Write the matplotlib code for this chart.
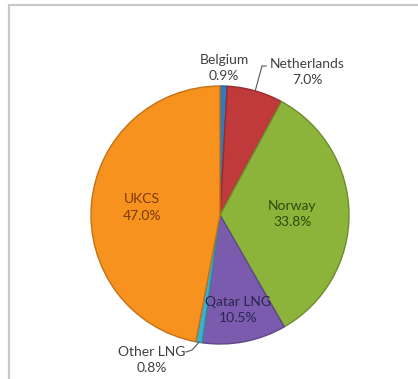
import numpy as np
import matplotlib.pyplot as plt
from matplotlib.patches import Rectangle
from matplotlib.colors import to_rgb

plt.rcParams['font.family'] = ['Lato', 'DejaVu Sans']

# gas supply shares, clockwise from 12 o'clock
sources = ['Belgium', 'Netherlands', 'Norway', 'Qatar LNG', 'Other LNG', 'UKCS']
shares = [0.9, 7.0, 33.8, 10.5, 0.8, 47.0]
colors = ['#2E7BC4', '#C0393B', '#8DB43A', '#7B5BAE', '#3FB0C9', '#F7921E']
text_colors = ['#404040', '#404040', '#2E4A0E', '#2A2550', '#404040', '#7A3A05']

W, H = 418, 379
fig = plt.figure(figsize=(W / 100, H / 100), dpi=100)
ax = fig.add_axes([0, 0, 1, 1])

cx, cy, r = 220, H - 215, 129
wedges, _ = ax.pie(shares, colors=colors, startangle=90, counterclock=False,
                   center=(cx, cy), radius=r, normalize=True)
for w, c in zip(wedges, colors):
    w.set_edgecolor(tuple(0.78 * v for v in to_rgb(c)))
    w.set_linewidth(1.0)

ax.set_xlim(0, W)
ax.set_ylim(0, H)
ax.set_aspect('equal', adjustable='box')
ax.axis('off')

# chart frame (runs off the right and bottom edges)
ax.add_patch(Rectangle((9, -10), W, H - 5 + 10, fill=False,
                       edgecolor='#C8C8C8', lw=1.6))

# mid angle of each wedge (degrees clockwise from top)
cum = np.cumsum([0] + shares)
mids = (cum[:-1] + cum[1:]) / 2 / 100 * 360

def pt(ang, frac):
    a = np.deg2rad(ang)
    return cx + frac * r * np.sin(a), cy + frac * r * np.cos(a)

labels = [f'{s}\n{v:.1f}%' for s, v in zip(sources, shares)]
fs = 10
ls = 1.45

# labels inside the larger slices
for i, frac in [(2, 0.56), (3, 0.75), (5, 0.61)]:
    x, y = pt(mids[i], frac)
    ax.text(x, y, labels[i], ha='center', va='center', fontsize=fs,
            color=text_colors[i], linespacing=ls)

# Belgium above the pie
x, y = pt(mids[0], 1.14)
ax.text(x, y, labels[0], ha='center', va='center', fontsize=fs,
        color=text_colors[0], linespacing=ls)

# Netherlands with leader line
x0, y0 = pt(mids[1], 1.0)
ax.plot([x0, 262, 266], [y0, H - 66, H - 66], color='#555555', lw=0.8)
ax.text(307, H - 72, labels[1], ha='center', va='center', fontsize=fs,
        color=text_colors[1], linespacing=ls)

# Other LNG with leader line
x0, y0 = pt(mids[4], 1.0)
ax.plot([x0, 192, 186], [y0, H - 350, H - 352], color='#555555', lw=0.8)
ax.text(152, H - 360, labels[4], ha='center', va='center', fontsize=fs,
        color=text_colors[4], linespacing=ls)

fig.savefig('out.png', dpi=100, facecolor='white')
